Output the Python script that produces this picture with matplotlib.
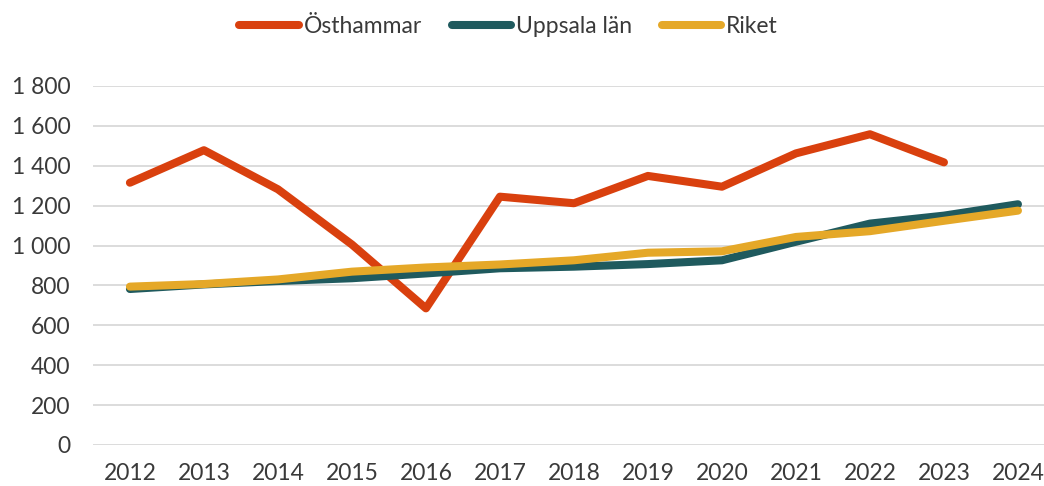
import numpy as np
from matplotlib import pyplot as plt

years = ['2012', '2013', '2014', '2015', '2016', '2017', '2018',
         '2019', '2020', '2021', '2022', '2023', '2024']
osthammar = [1315, 1478, 1282, 1005, 685, 1245, 1212, 1349, 1295, 1462, 1558, 1417, np.nan]
uppsala = [782, 805, 822, 836, 860, 886, 894, 907, 926, 1019, 1110, 1150, 1207]
riket = [794, 807, 830, 869, 890, 905, 926, 964, 971, 1043, 1072, 1124, 1175]
yticks = [0, 200, 400, 600, 800, 1000, 1200, 1400, 1600, 1800]

plt.rcParams['font.family'] = ['Lato', 'DejaVu Sans']
text_col = '#3A3A3A'

fig = plt.figure(figsize=(10.44, 4.86), dpi=100)
ax = fig.add_axes([0.089, 0.0844, 0.9215, 0.7387])

x = np.arange(len(years))
kw = dict(linewidth=5.8, solid_capstyle='round', solid_joinstyle='round')
ax.plot(x, osthammar, color='#D9400E', label='Östhammar', **kw)
ax.plot(x, uppsala, color='#1F5A5E', label='Uppsala län', **kw)
ax.plot(x, riket, color='#E5A828', label='Riket', **kw)

ax.set_xlim(-0.5, 12.5)
ax.set_ylim(0, 1800)
ax.set_yticks(yticks)
ax.set_yticklabels([f'{v:,}'.replace(',', ' ') for v in yticks])
ax.set_xticks(x)
ax.set_xticklabels(years)
ax.grid(axis='y', color='#D9D9D9', linewidth=1.3)
ax.set_axisbelow(True)
for s in ax.spines.values():
    s.set_visible(False)
ax.tick_params(length=0, labelsize=16.5, labelcolor=text_col)
ax.tick_params(axis='y', pad=16)
ax.tick_params(axis='x', pad=13)

leg = fig.legend(loc='center', bbox_to_anchor=(0.487, 0.945), ncol=3, frameon=False,
                 handlelength=2.6, handletextpad=0.2, columnspacing=1.3,
                 prop={'size': 16.5})
for t in leg.get_texts():
    t.set_color(text_col)

fig.savefig('out.png', dpi=100)
